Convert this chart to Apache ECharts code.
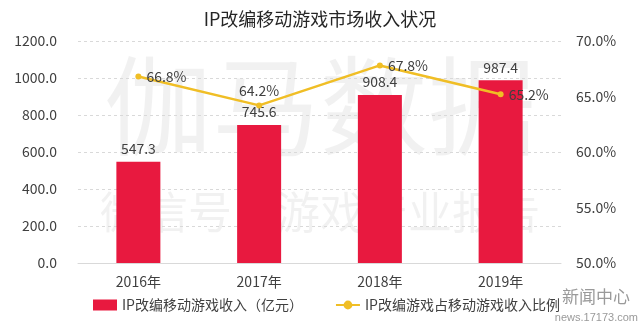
<!DOCTYPE html>
<html>
<head>
<meta charset="utf-8">
<script src="https://cdn.jsdelivr.net/npm/echarts@6/dist/echarts.min.js"></script>
<style>html,body{margin:0;padding:0;background:#fff;}#c{width:640px;height:328px;}</style>
</head>
<body>
<div id="c"></div>
<script>
const categories = ['2016年', '2017年', '2018年', '2019年'];
const revenue = [547.3, 745.6, 908.4, 987.4];
const ratio = [66.8, 64.2, 67.8, 65.2];
const ratioLabelPos = ['right', 'top', 'right', 'right'];
const leftTicks = { min: 0, max: 1200, interval: 200 };
const rightTicks = { min: 50, max: 70, interval: 5 };
const seriesNames = ['IP改编移动游戏收入（亿元）', 'IP改编游戏占移动游戏收入比例'];

const FONT = '"Noto Sans CJK SC", "Microsoft YaHei", sans-serif';
const chart = echarts.init(document.getElementById('c'));
chart.setOption({
  backgroundColor: '#fff',
  animation: false,
  textStyle: { fontFamily: FONT },
  title: {
    text: 'IP改编移动游戏市场收入状况',
    left: 'center', top: 5,
    textStyle: { fontFamily: FONT, fontSize: 18, fontWeight: 'normal', color: '#262626' }
  },
  graphic: [
    { type: 'text', left: 'center', top: 52, z: -10, silent: true,
      style: { text: '伽马数据', font: '108px "Noto Sans CJK SC"', fill: 'rgba(0,0,0,0.055)' } },
    { type: 'text', left: 'center', top: 190, z: -10, silent: true,
      style: { text: '微信号：游戏产业报告', font: '44px "Noto Sans CJK SC"', fill: 'rgba(0,0,0,0.055)' } },
    { type: 'text', right: 10, top: 288, z: 10, silent: true,
      style: { text: '新闻中心', font: '17px "Noto Sans CJK SC"', fill: '#9a9a9a' } },
    { type: 'text', right: 2, top: 312, z: 10, silent: true,
      style: { text: 'news.17173.com', font: '11px "Liberation Sans"', fill: '#9a9a9a' } }
  ],
  legend: {
    left: 88, bottom: 11,
    itemGap: 32,
    textStyle: { fontFamily: FONT, fontSize: 14, color: '#404040' },
    data: [
      { name: seriesNames[0], icon: 'rect' },
      { name: seriesNames[1] }
    ],
    itemWidth: 24, itemHeight: 11
  },
  grid: { left: 78, right: 79, top: 41, bottom: 65 },
  xAxis: {
    type: 'category',
    data: categories,
    axisTick: { show: false },
    axisLine: { lineStyle: { color: '#d9d9d9' } },
    axisLabel: { margin: 12, fontSize: 14, color: '#404040', fontFamily: FONT }
  },
  yAxis: [
    {
      type: 'value', min: leftTicks.min, max: leftTicks.max, interval: leftTicks.interval,
      axisLine: { show: false }, axisTick: { show: false },
      axisLabel: { margin: 21, fontSize: 14, color: '#404040', fontFamily: FONT,
        formatter: v => v.toFixed(1) },
      splitLine: { lineStyle: { color: '#d9d9d9', type: [3, 3] } }
    },
    {
      type: 'value', min: rightTicks.min, max: rightTicks.max, interval: rightTicks.interval,
      axisLine: { show: false }, axisTick: { show: false },
      axisLabel: { margin: 15, fontSize: 14, color: '#404040', fontFamily: FONT,
        formatter: v => v.toFixed(1) + '%' },
      splitLine: { show: false }
    }
  ],
  series: [
    {
      name: seriesNames[0], type: 'bar', data: revenue, barWidth: 44,
      itemStyle: { color: '#E8193F' },
      label: { show: true, position: 'top', distance: 6, fontSize: 14, color: '#404040',
        fontFamily: FONT, formatter: p => p.value.toFixed(1) }
    },
    {
      name: seriesNames[1], type: 'line', yAxisIndex: 1,
      data: ratio.map((v, i) => ({ value: v, label: { position: ratioLabelPos[i] } })),
      symbol: 'circle', symbolSize: 6,
      lineStyle: { color: '#F0BE25', width: 2.5 },
      itemStyle: { color: '#F0BE25' },
      label: { show: true, fontSize: 14, color: '#404040', fontFamily: FONT, distance: 5,
        formatter: p => p.value.toFixed(1) + '%' },
      z: 5
    }
  ]
});
</script>
</body>
</html>
